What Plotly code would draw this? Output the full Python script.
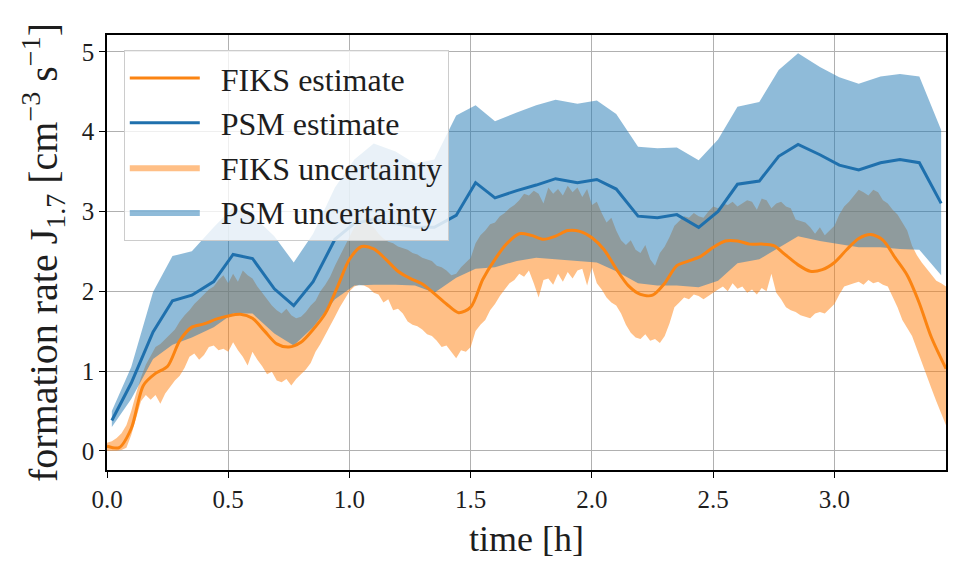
import numpy as np
import plotly.graph_objects as go

# ---------------- data ----------------
# PSM (5-min resolution)
psm_t = [0.02, 0.10, 0.19, 0.27, 0.35, 0.44, 0.52, 0.60, 0.69, 0.77, 0.85, 0.94,
         1.02, 1.10, 1.19, 1.27, 1.35, 1.44, 1.52, 1.60, 1.69, 1.77, 1.85, 1.94,
         2.02, 2.10, 2.19, 2.27, 2.35, 2.44, 2.52, 2.60, 2.69, 2.77, 2.85, 2.94,
         3.02, 3.10, 3.19, 3.27, 3.35, 3.44]
psm_est = [0.38, 0.85, 1.49, 1.88, 1.95, 2.12, 2.46, 2.41, 2.03, 1.82, 2.12, 2.65,
           2.85, 2.90, 2.85, 2.80, 2.80, 2.95, 3.36, 3.17, 3.26, 3.33, 3.41, 3.36,
           3.40, 3.28, 2.94, 2.92, 2.96, 2.80, 3.00, 3.34, 3.38, 3.69, 3.84, 3.71,
           3.58, 3.52, 3.61, 3.65, 3.61, 3.10]
psm_upper = [0.50, 1.05, 1.99, 2.44, 2.50, 2.80, 3.05, 2.95, 2.69, 2.36, 2.72, 3.30,
             3.65, 3.85, 3.75, 3.60, 3.65, 4.20, 4.33, 4.13, 4.24, 4.33, 4.40, 4.35,
             4.39, 4.22, 3.81, 3.79, 3.80, 3.64, 3.90, 4.31, 4.37, 4.77, 4.98, 4.81,
             4.68, 4.60, 4.69, 4.72, 4.69, 4.02]
psm_lower = [0.30, 0.65, 1.15, 1.33, 1.42, 1.55, 1.72, 1.72, 1.47, 1.32, 1.55, 1.90,
             2.07, 2.08, 2.08, 2.07, 1.98, 2.17, 2.28, 2.30, 2.38, 2.42, 2.40, 2.38,
             2.36, 2.25, 2.10, 2.07, 2.07, 2.05, 2.13, 2.35, 2.40, 2.55, 2.69, 2.63,
             2.59, 2.55, 2.55, 2.53, 2.52, 2.20]

# FIKS estimate
fiks_t = [0.00, 0.05, 0.10, 0.15, 0.20, 0.25, 0.30, 0.35, 0.40, 0.45, 0.50, 0.55,
          0.60, 0.65, 0.70, 0.75, 0.80, 0.85, 0.90, 0.95, 1.00, 1.05, 1.10, 1.15,
          1.20, 1.25, 1.30, 1.35, 1.40, 1.45, 1.50, 1.55, 1.60, 1.65, 1.70, 1.75,
          1.80, 1.85, 1.90, 1.95, 2.00, 2.05, 2.10, 2.15, 2.20, 2.25, 2.30, 2.35,
          2.40, 2.45, 2.50, 2.55, 2.60, 2.65, 2.70, 2.75, 2.80, 2.85, 2.90, 2.95,
          3.00, 3.05, 3.10, 3.15, 3.20, 3.25, 3.30, 3.35, 3.40, 3.46]
fiks_est = [0.06, 0.04, 0.28, 0.82, 0.97, 1.06, 1.38, 1.55, 1.59, 1.65, 1.69, 1.71,
            1.66, 1.50, 1.34, 1.30, 1.36, 1.52, 1.72, 2.05, 2.40, 2.56, 2.53, 2.40,
            2.25, 2.16, 2.09, 1.97, 1.84, 1.73, 1.80, 2.15, 2.40, 2.60, 2.72, 2.70,
            2.65, 2.69, 2.76, 2.75, 2.67, 2.52, 2.28, 2.07, 1.96, 1.95, 2.10, 2.32,
            2.38, 2.44, 2.55, 2.63, 2.63, 2.59, 2.59, 2.57, 2.45, 2.33, 2.25, 2.27,
            2.36, 2.52, 2.66, 2.71, 2.64, 2.42, 2.20, 1.85, 1.42, 1.03]

# FIKS uncertainty band, sampled every 0.02 h
fiks_band_t = list(np.round(np.arange(0, 174) * 0.02, 2))
fiks_upper = [0.10, 0.12, 0.16, 0.22, 0.32, 0.50, 0.72, 0.92, 1.08, 1.20,
              1.30, 1.34, 1.40, 1.46, 1.52, 1.62, 1.70, 1.76, 1.84, 1.90,
              1.96, 2.02, 2.06, 2.14, 2.20, 2.10, 2.22, 2.12, 2.26, 2.20,
              2.16, 2.06, 1.98, 1.90, 1.82, 1.76, 1.72, 1.78, 1.70, 1.66,
              1.68, 1.74, 1.82, 1.88, 2.00, 2.08, 2.18, 2.32, 2.44, 2.56,
              2.70, 2.80, 2.86, 2.88, 2.84, 2.80, 2.72, 2.66, 2.62, 2.60,
              2.56, 2.54, 2.52, 2.48, 2.46, 2.42, 2.40, 2.38, 2.32, 2.30,
              2.26, 2.20, 2.22, 2.30, 2.36, 2.42, 2.60, 2.70, 2.76, 2.84,
              2.86, 2.94, 2.98, 3.04, 3.08, 3.14, 3.22, 3.20, 3.26, 3.22,
              3.10, 3.30, 3.22, 3.28, 3.20, 3.32, 3.24, 3.30, 3.18, 3.28,
              3.08, 3.12, 2.98, 2.86, 2.92, 2.76, 2.64, 2.58, 2.64, 2.52,
              2.48, 2.58, 2.40, 2.32, 2.48, 2.56, 2.68, 2.82, 2.88, 2.94,
              2.92, 2.98, 2.94, 2.92, 3.00, 3.06, 3.04, 3.10, 3.08, 3.12,
              3.06, 3.10, 3.14, 3.12, 3.02, 3.16, 3.14, 3.04, 3.10, 3.12,
              3.06, 3.04, 2.90, 2.88, 2.86, 2.80, 2.72, 2.80, 2.70, 2.76,
              2.82, 2.96, 3.06, 3.12, 3.20, 3.27, 3.24, 3.20, 3.27, 3.24,
              3.14, 3.10, 3.02, 2.96, 2.86, 2.76, 2.57, 2.45, 2.36, 2.28,
              2.20, 2.13, 2.10, 2.06]
fiks_lower = [0.00, 0.00, 0.00, 0.01, 0.04, 0.20, 0.40, 0.62, 0.70, 0.64,
              0.70, 0.59, 0.72, 0.80, 0.88, 0.94, 1.04, 1.18, 1.22, 1.14,
              1.20, 1.30, 1.32, 1.26, 1.28, 1.24, 1.36, 1.26, 1.18, 1.07,
              1.24, 1.14, 1.06, 0.96, 0.99, 0.88, 0.86, 0.90, 0.82, 0.90,
              0.96, 1.02, 1.10, 1.24, 1.34, 1.44, 1.56, 1.68, 1.80, 1.90,
              2.00, 2.06, 2.08, 2.07, 2.04, 1.98, 1.96, 1.86, 1.90, 1.76,
              1.78, 1.72, 1.62, 1.58, 1.56, 1.52, 1.46, 1.44, 1.38, 1.30,
              1.32, 1.24, 1.16, 1.26, 1.24, 1.30, 1.50, 1.58, 1.64, 1.76,
              1.84, 1.94, 2.02, 2.10, 2.14, 2.22, 2.18, 2.26, 2.10, 1.92,
              2.14, 2.16, 2.08, 2.22, 2.12, 2.24, 2.16, 2.26, 2.28, 2.07,
              2.30, 2.10, 2.02, 1.92, 1.86, 1.82, 1.72, 1.58, 1.48, 1.42,
              1.40, 1.46, 1.38, 1.40, 1.35, 1.44, 1.60, 1.80, 1.86, 1.92,
              1.90, 1.96, 1.94, 1.90, 1.94, 1.98, 2.02, 2.06, 2.00, 2.10,
              2.03, 2.06, 1.98, 2.02, 1.96, 2.04, 2.00, 2.22, 1.98, 1.90,
              1.80, 1.76, 1.74, 1.70, 1.68, 1.66, 1.72, 1.74, 1.72, 1.78,
              1.84, 1.96, 2.06, 2.08, 2.10, 2.12, 2.08, 2.14, 2.10, 2.12,
              2.08, 2.06, 1.94, 1.80, 1.64, 1.54, 1.44, 1.28, 1.12, 0.94,
              0.78, 0.62, 0.46, 0.32]

x_ticks = [0.0, 0.5, 1.0, 1.5, 2.0, 2.5, 3.0]
x_tick_labels = ["0.0", "0.5", "1.0", "1.5", "2.0", "2.5", "3.0"]
y_ticks = [0, 1, 2, 3, 4, 5]
y_tick_labels = ["0", "1", "2", "3", "4", "5"]

ORANGE = "#fb8412"
BLUE = "#1f70ad"
FONT = "Liberation Serif"
TXT = "#1e1e1e"
PAD = "\u2002"  # small gap between legend symbol and label

fig = go.Figure()

# FIKS uncertainty (drawn first)
fig.add_trace(go.Scatter(
    x=fiks_band_t + fiks_band_t[::-1],
    y=fiks_upper + fiks_lower[::-1],
    fill="toself", fillcolor="rgba(255,127,14,0.5)",
    line=dict(width=0, color="rgba(255,127,14,0.5)"), mode="lines",
    name=PAD + "FIKS uncertainty", legendrank=3, legendgroup="c", hoverinfo="skip"))
# PSM uncertainty
fig.add_trace(go.Scatter(
    x=psm_t + psm_t[::-1],
    y=psm_upper + psm_lower[::-1],
    fill="toself", fillcolor="rgba(31,119,180,0.5)",
    line=dict(width=0, color="rgba(31,119,180,0.5)"), mode="lines",
    name=PAD + "PSM uncertainty", legendrank=4, legendgroup="d", hoverinfo="skip"))
# estimates
fig.add_trace(go.Scatter(
    x=psm_t, y=psm_est, mode="lines", line=dict(color=BLUE, width=3),
    name=PAD + "PSM estimate", legendrank=2, legendgroup="b"))
fig.add_trace(go.Scatter(
    x=fiks_t, y=fiks_est, mode="lines",
    line=dict(color=ORANGE, width=3, shape="spline", smoothing=0.8),
    name=PAD + "FIKS estimate", legendrank=1, legendgroup="a"))

axis_common = dict(
    showline=True, linecolor="black", linewidth=1.5, mirror=True,
    ticks="outside", ticklen=6, tickwidth=1.2, tickcolor="black",
    showgrid=True, gridcolor="#b0b0b0", gridwidth=1, zeroline=False,
    tickfont=dict(family=FONT, size=25, color=TXT),
)

fig.update_xaxes(range=[0, 3.46], tickvals=x_ticks, ticktext=x_tick_labels,
                 title=dict(text="time [h]", font=dict(family=FONT, size=36, color=TXT),
                            standoff=14),
                 **axis_common)
fig.update_yaxes(range=[-0.24, 5.21], tickvals=y_ticks, ticktext=y_tick_labels,
                 title=dict(text="formation rate J<sub>1.7</sub> [cm<sup>\u22123</sup> s<sup>\u22121</sup>]",
                            font=dict(family=FONT, size=40, color=TXT), standoff=12),
                 **axis_common)

fig.update_layout(
    width=953, height=562,
    margin=dict(l=107, r=5, t=35, b=92),
    paper_bgcolor="white", plot_bgcolor="white",
    showlegend=True,
    legend=dict(x=0.02, y=0.966, xanchor="left", yanchor="top",
                bgcolor="rgba(255,255,255,0.8)", bordercolor="#cccccc", borderwidth=1,
                font=dict(family=FONT, size=32, color=TXT),
                tracegroupgap=0, itemwidth=70),
    font=dict(family=FONT),
)

fig.write_html("out.html")
